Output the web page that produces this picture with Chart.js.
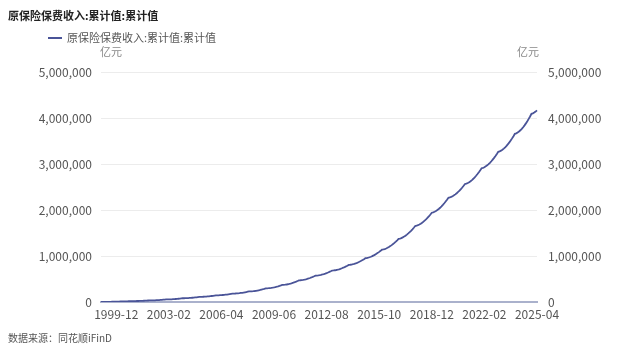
<!DOCTYPE html>
<html>
<head>
<meta charset="utf-8">
<script src="https://cdn.jsdelivr.net/npm/chart.js@4"></script>
<style>
  body { margin: 0; background: #fff; font-family: "Noto Sans CJK SC", "Noto Sans", sans-serif; }
  #wrap { position: relative; width: 640px; height: 353px; overflow: hidden; }
  #chart { position: absolute; left: 0; top: 0; }
  .txt { position: absolute; white-space: nowrap; line-height: 1; }
  #title { left: 8px; top: 10px; font-size: 11px; font-weight: bold; color: #222; }
  #legend { left: 48px; top: 32px; font-size: 11px; color: #555; }
  #legend i { display: inline-block; width: 14px; height: 2px; background: #4a5498; vertical-align: middle; margin-right: 5px; position: relative; top: -1px; }
  .unit { top: 46px; font-size: 11px; color: #888; }
  #source { left: 8px; top: 333px; font-size: 10px; color: #555; }
</style>
</head>
<body>
<div id="wrap">
  <canvas id="chart" width="640" height="353"></canvas>
  <div class="txt" id="title">原保险保费收入:累计值:累计值</div>
  <div class="txt" id="legend"><i></i>原保险保费收入:累计值:累计值</div>
  <div class="txt unit" style="left:100px">亿元</div>
  <div class="txt unit" style="left:517px">亿元</div>
  <div class="txt" id="source">数据来源：同花顺iFinD</div>
</div>
<script>
// monthly points from 1999-01 to 2025-04
const startYear = 1999;
const monthCount = 316;
const seriesName = '原保险保费收入:累计值:累计值';

// cumulative values (亿元)
const premium = [
  139, 390, 794, 1309, 1936, 2702, 3566, 4527, 5600, 6770, 8052, 9445,
  9605, 9892, 10355, 10946, 11664, 12542, 13532, 14633, 15862, 17203, 18671, 20267,
  20478, 20858, 21470, 22250, 23199, 24359, 25667, 27122, 28746, 30518, 32458, 34567,
  34872, 35422, 36307, 37437, 38811, 40490, 42383, 44490, 46841, 49406, 52215, 55268,
  55656, 56354, 57479, 58915, 60661, 62795, 65201, 67878, 70866, 74125, 77695, 81575,
  82007, 82784, 84036, 85634, 87577, 89952, 92629, 95608, 98933, 102560, 106533, 110851,
  111344, 112231, 113660, 115483, 117700, 120410, 123465, 126865, 130659, 134798, 139331, 144258,
  144822, 145837, 147473, 149560, 152098, 155201, 158698, 162590, 166934, 171672, 176862, 182503,
  183207, 184473, 186513, 189116, 192282, 196152, 200514, 205369, 210787, 216697, 223170, 230206,
  231184, 232945, 235782, 239402, 243805, 249186, 255252, 262003, 269537, 277756, 286757, 296541,
  297655, 299660, 302890, 307011, 312023, 318148, 325053, 332738, 341313, 350668, 360914, 372051,
  373504, 376119, 380332, 385707, 392245, 400235, 409242, 419266, 430453, 442657, 456023, 470551,
  472415, 475570, 480445, 486467, 493637, 502240, 511704, 522028, 533356, 545544, 558736, 573075,
  575088, 578495, 583761, 590266, 598010, 607303, 617525, 628676, 640912, 654077, 668326, 683814,
  686053, 689842, 695697, 702930, 711541, 721874, 733241, 745641, 759246, 773885, 789729, 806951,
  809582, 814034, 820914, 829413, 839531, 851672, 865027, 879596, 895582, 912782, 931398, 951633,
  956004, 963046, 972759, 984172, 997285, 1012826, 1029824, 1048279, 1068191, 1089560, 1112386, 1136669,
  1142242, 1151220, 1163604, 1178155, 1194873, 1214687, 1236358, 1259887, 1285273, 1312517, 1341618, 1372577,
  1379162, 1389770, 1404402, 1421595, 1441349, 1464761, 1490368, 1518170, 1548166, 1580357, 1614743, 1651324,
  1658167, 1669192, 1684399, 1702267, 1722796, 1747127, 1773739, 1802632, 1833806, 1867261, 1902997, 1941014,
  1948690, 1961057, 1978115, 1998158, 2021186, 2048479, 2078331, 2110741, 2145710, 2183238, 2223324, 2265969,
  2273056, 2284475, 2300225, 2318731, 2339993, 2365192, 2392754, 2422678, 2454965, 2489614, 2526626, 2566000,
  2574082, 2587103, 2605063, 2626166, 2650412, 2679148, 2710578, 2744702, 2781520, 2821032, 2863238, 2908138,
  2916590, 2930208, 2948991, 2971061, 2996418, 3026470, 3059340, 3095027, 3133532, 3174854, 3218994, 3265951,
  3275175, 3290037, 3310536, 3334622, 3362295, 3395093, 3430966, 3469914, 3511937, 3557034, 3605206, 3656453,
  3666706, 3683225, 3706010, 3732783, 3763543, 3799999, 3839873, 3883165, 3929875, 3980002, 4033547, 4090510,
  4101010, 4117510, 4139910, 4166610
];

const yTicks = [0, 1000000, 2000000, 3000000, 4000000, 5000000];
const labelStep = 38; // a label every 38 months, counted back from the last point

// month labels YYYY-MM
const months = [];
for (let i = 0; i < monthCount; i++) {
  const y = startYear + Math.floor(i / 12);
  const m = (i % 12) + 1;
  months.push(y + '-' + (m < 10 ? '0' + m : m));
}

const fmt = v => Number(v).toLocaleString('en-US');
const tickFont = { family: '"Noto Sans CJK SC", "Noto Sans", sans-serif', size: 12 };

new Chart(document.getElementById('chart'), {
  type: 'line',
  data: {
    labels: months,
    datasets: [{
      label: seriesName,
      data: premium,
      borderColor: '#4a5498',
      borderWidth: 1.8,
      pointRadius: 0,
      tension: 0,
      fill: false,
      yAxisID: 'y'
    }]
  },
  options: {
    responsive: false,
    animation: false,
    events: [],
    layout: { padding: { top: 72, left: 0, right: 0, bottom: 0 } },
    plugins: { legend: { display: false }, tooltip: { enabled: false } },
    scales: {
      x: {
        offset: false,
        grid: { display: false, drawTicks: false },
        border: { display: true, color: '#aab1cc', width: 2 },
        ticks: {
          autoSkip: false,
          maxRotation: 0,
          padding: 5,
          color: '#555',
          font: tickFont,
          callback: (v, i) => ((monthCount - 1 - i) % labelStep === 0 ? months[i] : null)
        },
        afterFit: s => { s.height = 51; }
      },
      y: {
        position: 'left',
        min: yTicks[0],
        max: yTicks[yTicks.length - 1],
        afterBuildTicks: s => { s.ticks = yTicks.map(v => ({ value: v })); },
        grid: { color: '#ececec', lineWidth: 1, drawTicks: false },
        border: { display: false },
        ticks: { padding: 9, color: '#555', font: tickFont, callback: v => fmt(v) },
        afterFit: s => { s.width = 101; }
      },
      y2: {
        position: 'right',
        min: yTicks[0],
        max: yTicks[yTicks.length - 1],
        afterBuildTicks: s => { s.ticks = yTicks.map(v => ({ value: v })); },
        grid: { display: false, drawTicks: false },
        border: { display: false },
        ticks: { padding: 11, color: '#555', font: tickFont, callback: v => fmt(v) },
        afterFit: s => { s.width = 103; }
      }
    }
  }
});
</script>
</body>
</html>
